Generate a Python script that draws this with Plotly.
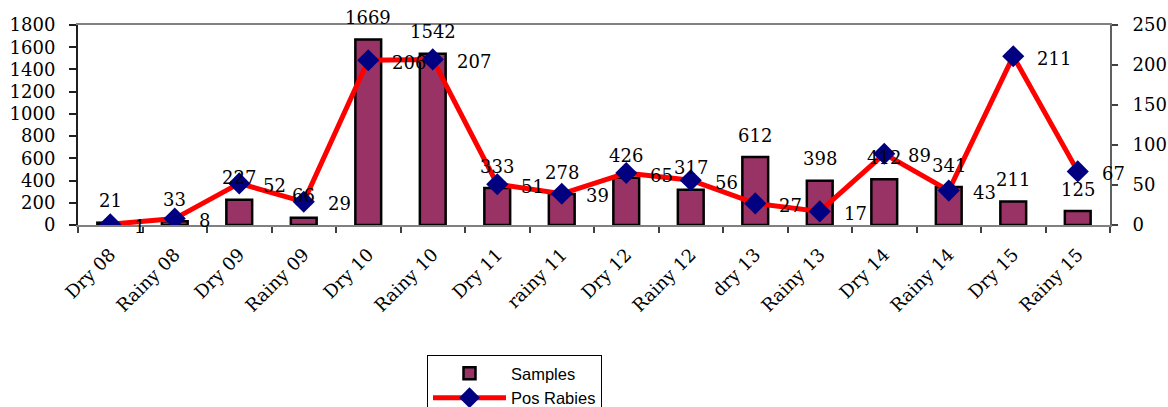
import plotly.graph_objects as go

categories = ["Dry 08", "Rainy 08", "Dry 09", "Rainy 09", "Dry 10", "Rainy 10", "Dry 11", "rainy 11",
              "Dry 12", "Rainy 12", "dry 13", "Rainy 13", "Dry 14", "Rainy 14", "Dry 15", "Rainy 15"]
samples = [21, 33, 227, 66, 1669, 1542, 333, 278, 426, 317, 612, 398, 412, 341, 211, 125]
pos_rabies = [1, 8, 52, 29, 206, 207, 51, 39, 65, 56, 27, 17, 89, 43, 211, 67]

serif = "DejaVu Serif"
fsize = 18
n = len(categories)

fig = go.Figure()
fig.add_trace(go.Bar(
    x=categories, y=samples, name="Samples",
    marker=dict(color="#993366", line=dict(color="black", width=2.5)),
    width=0.40,
))
fig.add_trace(go.Scatter(
    x=categories, y=pos_rabies, name="Pos Rabies", yaxis="y2",
    mode="lines+markers",
    line=dict(color="#FF0000", width=5),
    marker=dict(symbol="diamond", size=17, color="#000080"),
))

annotations = []
for c, v in zip(categories, samples):
    annotations.append(dict(x=c, y=v, xref="x", yref="y", text=str(v), showarrow=False,
                            xanchor="center", yanchor="middle", yshift=22,
                            font=dict(family=serif, size=fsize, color="black")))
for c, v in zip(categories, pos_rabies):
    annotations.append(dict(x=c, y=v, xref="x", yref="y2", text=str(v), showarrow=False,
                            xanchor="left", yanchor="middle", xshift=22, yshift=-2,
                            font=dict(family=serif, size=fsize, color="black")))

axis_grey = "#808080"
W, H = 1168, 407
fig.update_layout(
    width=W, height=H,
    margin=dict(l=78, r=58, t=25, b=182, autoexpand=False),
    plot_bgcolor="white", paper_bgcolor="white",
    font=dict(family=serif, size=fsize, color="black"),
    showlegend=True,
    legend=dict(xref="container", yref="container",
                x=427 / W, y=1 - 355 / H, xanchor="left", yanchor="top",
                bordercolor="black", borderwidth=1, bgcolor="white",
                font=dict(family="Liberation Sans", size=16.5, color="black"),
                itemwidth=73, tracegroupgap=0),
    xaxis=dict(range=[-0.5, n - 0.5], showline=True, linecolor=axis_grey, linewidth=2, mirror=True,
               ticks="outside", tickson="boundaries", ticklen=6, tickcolor="#404040", tickwidth=1.5,
               tickangle=-45, tickfont=dict(family=serif, size=fsize), showgrid=False,
               ticklabelstandoff=10, automargin=False),
    xaxis2=dict(range=[-0.5, n - 0.5], overlaying="x", anchor="y", side="bottom",
                tick0=-0.5, dtick=1, ticks="inside", ticklen=6, tickcolor="#404040", tickwidth=1.5,
                showticklabels=False, showgrid=False, zeroline=False, showline=False,
                automargin=False),
    yaxis=dict(range=[0, 1800], dtick=200, showline=True, linecolor="#202020", linewidth=2,
               ticks="outside", ticklen=7, tickcolor="#202020", tickwidth=1.5, showgrid=False,
               tickfont=dict(family=serif, size=fsize), zeroline=False, ticklabelstandoff=10,
               automargin=False),
    yaxis2=dict(range=[0, 250], dtick=50, overlaying="y", side="right", showline=True,
                linecolor="#606060", linewidth=2, ticks="outside", ticklen=6, tickcolor="#404040",
                tickwidth=1.5, showgrid=False, tickfont=dict(family=serif, size=fsize),
                zeroline=False, ticklabelstandoff=11, automargin=False),
    yaxis3=dict(range=[0, 1800], dtick=200, overlaying="y", side="left", ticks="inside",
                ticklen=6, tickcolor="#202020", tickwidth=1.5, showticklabels=False,
                showgrid=False, zeroline=False, showline=False, automargin=False),
    yaxis4=dict(range=[0, 250], dtick=50, overlaying="y", side="right", ticks="inside",
                ticklen=6, tickcolor="#404040", tickwidth=1.5, showticklabels=False,
                showgrid=False, zeroline=False, showline=False, automargin=False),
    annotations=annotations,
)

fig.write_html("out.html", config={"displayModeBar": False},
               post_script="document.body.style.margin='0';document.body.style.overflow='hidden';")
